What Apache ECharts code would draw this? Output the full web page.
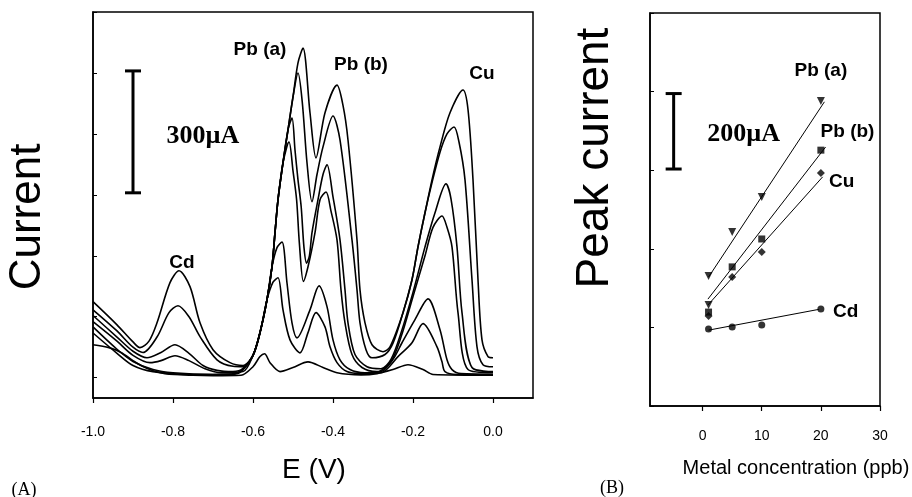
<!DOCTYPE html>
<html>
<head>
<meta charset="utf-8">
<script src="https://cdn.jsdelivr.net/npm/echarts@6/dist/echarts.min.js"></script>
<style>
html,body{margin:0;padding:0;background:#fff;}
#chart{width:912px;height:497px;}
</style>
</head>
<body>
<div id="chart"></div>
<script>
// ---------- Panel A: stripping voltammograms (E in V, current in µA) ----------
const E_TICKS = [-1.0, -0.8, -0.6, -0.4, -0.2, 0.0];
const I_TICKS_A = [0, 150, 300, 450, 600, 750, 900];

const curve1 = [[-1.0,187],[-0.94,130],[-0.9,88],[-0.8825,74],[-0.86,90],[-0.84,135],[-0.8075,234],[-0.785,263],[-0.7575,224],[-0.7325,135],[-0.7,69],[-0.6575,37],[-0.625,30],[-0.6,55],[-0.5825,111],[-0.565,192],[-0.5525,273],[-0.545,357],[-0.5375,438],[-0.525,529],[-0.5125,610],[-0.5,691],[-0.4875,775],[-0.475,811],[-0.4575,652],[-0.4425,541],[-0.42,652],[-0.39,720],[-0.375,670],[-0.3625,585],[-0.34,339],[-0.3325,216],[-0.32,135],[-0.3025,81],[-0.275,64],[-0.2575,76],[-0.225,160],[-0.2025,241],[-0.1875,322],[-0.17,406],[-0.1525,487],[-0.1325,568],[-0.1075,652],[-0.075,708],[-0.0625,660],[-0.05,487],[-0.0375,241],[-0.0275,93],[-0.0125,52],[0.0,49]];
const curve2 = [[-1.0,167],[-0.94,115],[-0.9,75],[-0.875,62],[-0.84,100],[-0.81,160],[-0.7875,177],[-0.76,150],[-0.7325,101],[-0.69,44],[-0.65,28],[-0.625,27],[-0.6,55],[-0.5825,111],[-0.565,192],[-0.5525,273],[-0.545,357],[-0.5375,438],[-0.525,529],[-0.5125,610],[-0.5,691],[-0.4875,750],[-0.477,680],[-0.465,529],[-0.4525,433],[-0.44,500],[-0.425,568],[-0.4,644],[-0.3825,585],[-0.3525,339],[-0.34,216],[-0.3325,135],[-0.3175,69],[-0.3025,49],[-0.27,57],[-0.25,85],[-0.225,160],[-0.2025,241],[-0.1875,322],[-0.17,406],[-0.1525,480],[-0.1325,555],[-0.115,600],[-0.0975,617],[-0.085,580],[-0.07,487],[-0.0525,241],[-0.04,76],[-0.025,32],[0.0,27]];
const curve3 = [[-1.0,153],[-0.94,100],[-0.9,65],[-0.865,49],[-0.83,62],[-0.795,81],[-0.76,60],[-0.725,30],[-0.69,18],[-0.65,15],[-0.625,22],[-0.6,55],[-0.5825,111],[-0.565,192],[-0.5525,273],[-0.545,357],[-0.5375,438],[-0.525,529],[-0.5125,610],[-0.5025,639],[-0.495,560],[-0.4875,487],[-0.4795,420],[-0.4725,320],[-0.466,282],[-0.459,300],[-0.4525,357],[-0.4375,438],[-0.425,500],[-0.415,524],[-0.4,445],[-0.3825,339],[-0.37,216],[-0.3625,135],[-0.345,57],[-0.315,27],[-0.28,22],[-0.255,45],[-0.23,110],[-0.2,210],[-0.17,322],[-0.145,406],[-0.1175,477],[-0.105,440],[-0.09,322],[-0.0775,160],[-0.0525,25],[0.0,15]];
const curve4 = [[-1.0,138],[-0.94,90],[-0.9,55],[-0.8575,37],[-0.83,42],[-0.795,54],[-0.76,42],[-0.72,22],[-0.68,12],[-0.625,15],[-0.6,55],[-0.5825,111],[-0.565,192],[-0.5525,273],[-0.545,357],[-0.5375,438],[-0.525,529],[-0.51,580],[-0.5,509],[-0.491,438],[-0.484,330],[-0.474,237],[-0.4625,273],[-0.445,357],[-0.4325,438],[-0.4175,457],[-0.405,410],[-0.39,339],[-0.38,216],[-0.37,135],[-0.3525,57],[-0.3275,25],[-0.29,15],[-0.255,40],[-0.23,100],[-0.2,200],[-0.17,300],[-0.15,370],[-0.1275,398],[-0.115,370],[-0.1025,322],[-0.0875,160],[-0.0625,20],[0.0,12]];
const curve5 = [[-1.0,125],[-0.94,70],[-0.9,40],[-0.85,20],[-0.8,12],[-0.7,8],[-0.64,10],[-0.6,55],[-0.5825,111],[-0.565,192],[-0.5525,273],[-0.54,320],[-0.5275,334],[-0.515,233],[-0.5025,135],[-0.49,98],[-0.4575,167],[-0.435,226],[-0.415,175],[-0.4,93],[-0.3825,44],[-0.3575,20],[-0.32,12],[-0.28,15],[-0.25,45],[-0.2275,86],[-0.195,143],[-0.1625,194],[-0.1325,118],[-0.115,44],[-0.1025,20],[-0.08,10],[0.0,8]];
const curve6 = [[-1.0,110],[-0.94,60],[-0.9,30],[-0.85,15],[-0.75,8],[-0.65,8],[-0.62,27],[-0.6,55],[-0.5825,111],[-0.565,192],[-0.55,235],[-0.5375,246],[-0.525,167],[-0.5075,93],[-0.4825,61],[-0.4625,111],[-0.4425,160],[-0.42,125],[-0.4075,76],[-0.39,37],[-0.365,15],[-0.33,10],[-0.28,12],[-0.2375,52],[-0.2025,86],[-0.175,133],[-0.14,76],[-0.1275,39],[-0.12,15],[-0.09,8],[0.0,8]];
const curve7 = [[-1.0,81],[-0.96,74],[-0.93,62],[-0.9,42],[-0.88,30],[-0.85,17],[-0.82,10],[-0.75,6],[-0.7,5],[-0.63,6],[-0.6,27],[-0.5825,52],[-0.5712,59],[-0.5575,37],[-0.5325,15],[-0.5,25],[-0.4625,39],[-0.425,25],[-0.39,12],[-0.33,7],[-0.29,10],[-0.25,20],[-0.2125,32],[-0.175,20],[-0.15,8],[0.0,6]];

// annotations, panel A (data coordinates)
const labelsA = [
  {name: 'Pb (a)', value: [-0.5825, 807]},
  {name: 'Pb (b)', value: [-0.33, 771]},
  {name: 'Cu', value: [-0.0275, 748]},
  {name: 'Cd', value: [-0.7775, 283]}
];
const scaleBarA = [[-0.9, 455, 755]];      // 300 µA
const scaleTextA = [{name: '300µA', value: [-0.725, 593]}];

// ---------- Panel B: calibration (ppb vs peak current, µA) ----------
const CONC_TICKS = [0, 10, 20, 30];
const conc = [1, 5, 10, 20];
const peakPbA = [331, 443, 532, 776];
const peakPbA_extra = [[1, 257]];
const peakPbB = [239, 354, 425, 651];
const peakCu = [229, 328, 392, 593];
const peakCd = [196, 201, 206, 247];
const fitPbA = [[1, 328], [20.6, 774]];
const fitPbB = [[0.9, 272], [20.8, 659]];
const fitCu = [[0.9, 257], [20.3, 583]];
const fitCd = [[1, 193], [19.7, 246]];

const labelsB = [
  {name: 'Pb (a)', value: [20.0, 854]},
  {name: 'Pb (b)', value: [24.5, 697]},
  {name: 'Cu', value: [23.5, 571]},
  {name: 'Cd', value: [24.2, 240]}
];
const scaleBarB = [[-4.9, 603, 795]];      // 200 µA
const scaleTextB = [{name: '200µA', value: [6.95, 691]}];

// ---------- build ----------
const SANS = 'Liberation Sans, Arial, sans-serif';
const SERIF = 'Liberation Serif, Times New Roman, serif';
const zip = (xs, ys) => xs.map((x, i) => [x, ys[i]]);

function scaleBarRender(params, api) {
  const x = api.value(0), y0 = api.value(1), y1 = api.value(2);
  const p0 = api.coord([x, y0]), p1 = api.coord([x, y1]);
  const w = 8;
  const st = {stroke: '#000', lineWidth: 3};
  return {type: 'group', children: [
    {type: 'line', shape: {x1: p0[0], y1: p0[1], x2: p1[0], y2: p1[1]}, style: st},
    {type: 'line', shape: {x1: p0[0]-w, y1: p0[1], x2: p0[0]+w, y2: p0[1]}, style: st},
    {type: 'line', shape: {x1: p1[0]-w, y1: p1[1], x2: p1[0]+w, y2: p1[1]}, style: st}
  ]};
}

function textSeries(data, xi, yi, font, size) {
  return {
    type: 'scatter', xAxisIndex: xi, yAxisIndex: yi, data: data,
    symbolSize: 1, itemStyle: {color: 'rgba(0,0,0,0)'}, silent: true, z: 10,
    label: {show: true, position: 'inside', formatter: '{b}', color: '#000',
            textBorderWidth: 0, opacity: 1,
            fontFamily: font, fontWeight: 'bold', fontSize: size},
    labelLayout: {hideOverlap: false}
  };
}

const curves = [curve1, curve2, curve3, curve4, curve5, curve6, curve7];
const series = curves.map(c => ({
  type: 'line', xAxisIndex: 0, yAxisIndex: 0, data: c,
  showSymbol: false, smooth: 0.3, clip: true,
  lineStyle: {color: '#000', width: 1.6}
}));
series.push({type: 'custom', xAxisIndex: 0, yAxisIndex: 0, data: scaleBarA,
  renderItem: scaleBarRender, encode: {x: 0, y: [1, 2]}, silent: true});
series.push(textSeries(labelsA, 0, 0, SANS, 19));
series.push(textSeries(scaleTextA, 0, 0, SERIF, 26));

// panel B
const fitStyle = {color: '#000', width: 1};
[fitPbA, fitPbB, fitCu, fitCd].forEach(f => series.push({
  type: 'line', xAxisIndex: 1, yAxisIndex: 1, data: f, showSymbol: false,
  lineStyle: fitStyle, silent: true
}));
const mk = (data, symbol, size, rot) => ({
  type: 'scatter', xAxisIndex: 1, yAxisIndex: 1, data: data,
  symbol: symbol, symbolSize: size, symbolRotate: rot || 0,
  itemStyle: {color: '#000'}
});
series.push(mk(zip(conc, peakPbA), 'triangle', 8, 180));
series.push(mk(peakPbA_extra, 'triangle', 8, 180));
series.push(mk(zip(conc, peakPbB), 'rect', 7));
series.push(mk(zip(conc, peakCu), 'diamond', 8));
series.push(mk(zip(conc, peakCd), 'circle', 7));
series.push({type: 'custom', xAxisIndex: 1, yAxisIndex: 1, data: scaleBarB,
  renderItem: scaleBarRender, encode: {x: 0, y: [1, 2]}, silent: true});
series.push(textSeries(labelsB, 1, 1, SANS, 19));
series.push(textSeries(scaleTextB, 1, 1, SERIF, 26));

const axisLineStyle = {show: true, onZero: false, lineStyle: {color: '#000', width: 1.5}};

const option = {
  backgroundColor: '#fff',
  animation: false,
  grid: [
    {left: 93, top: 12, width: 440, height: 386, show: true, borderColor: '#000', borderWidth: 1.5},
    {left: 650, top: 13, width: 230, height: 393, show: true, borderColor: '#000', borderWidth: 1.5}
  ],
  xAxis: [
    {type: 'value', gridIndex: 0, min: -1, max: 0.1,
     axisLine: axisLineStyle,
     axisTick: {show: true, customValues: E_TICKS, length: 5, lineStyle: {color: '#000', width: 1.2}},
     axisLabel: {customValues: E_TICKS, formatter: v => v.toFixed(1), color: '#000',
                 fontSize: 14, fontFamily: SANS, margin: 27},
     splitLine: {show: false}},
    {type: 'value', gridIndex: 1, min: -8.9, max: 30,
     axisLine: axisLineStyle,
     axisTick: {show: true, customValues: CONC_TICKS, length: 5, lineStyle: {color: '#000', width: 1.2}},
     axisLabel: {customValues: CONC_TICKS, color: '#000', fontSize: 14, fontFamily: SANS, margin: 23},
     splitLine: {show: false}}
  ],
  yAxis: [
    {type: 'value', gridIndex: 0, min: -50, max: 900,
     axisLine: axisLineStyle,
     axisTick: {show: true, inside: true, customValues: I_TICKS_A, length: 4, lineStyle: {color: '#000'}},
     axisLabel: {show: false}, splitLine: {show: false}},
    {type: 'value', gridIndex: 1, min: 0, max: 1000, interval: 200,
     axisLine: axisLineStyle,
     axisTick: {show: true, inside: true, length: 4, lineStyle: {color: '#000'}},
     axisLabel: {show: false}, splitLine: {show: false}}
  ],
  graphic: [
    {type: 'text', x: 28, y: 217, rotation: Math.PI / 2,
     style: {text: 'Current', fontSize: 44, fontFamily: SANS, fill: '#000', align: 'center', verticalAlign: 'middle'}},
    {type: 'text', x: 314, y: 470,
     style: {text: 'E (V)', fontSize: 28, fontFamily: SANS, fill: '#000', align: 'center', verticalAlign: 'middle'}},
    {type: 'text', x: 24, y: 490,
     style: {text: '(A)', fontSize: 18, fontFamily: SERIF, fill: '#000', align: 'center', verticalAlign: 'middle'}},
    {type: 'text', x: 595, y: 158, rotation: Math.PI / 2,
     style: {text: 'Peak current', fontSize: 46, fontFamily: SANS, fill: '#000', align: 'center', verticalAlign: 'middle'}},
    {type: 'text', x: 796, y: 468,
     style: {text: 'Metal concentration (ppb)', fontSize: 20, fontFamily: SANS, fill: '#000', align: 'center', verticalAlign: 'middle'}},
    {type: 'text', x: 612, y: 488,
     style: {text: '(B)', fontSize: 18, fontFamily: SERIF, fill: '#000', align: 'center', verticalAlign: 'middle'}}
  ],
  series: series
};

const chart = echarts.init(document.getElementById('chart'), null, {renderer: 'canvas'});
chart.setOption(option);
</script>
</body>
</html>
